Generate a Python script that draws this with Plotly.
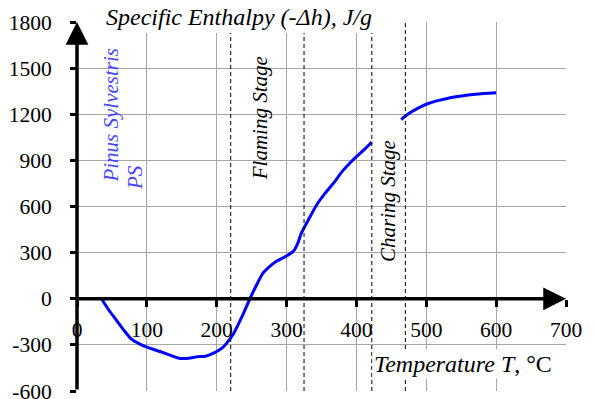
import plotly.graph_objects as go

# ---- data ----
temp_flaming = [35, 45, 57, 68, 78, 90, 100, 110, 120, 135, 147, 160, 171, 185, 200, 208, 214,
                224, 238, 247.5, 256, 266, 276, 286, 300, 310, 316, 321, 332, 343, 355, 367,
                380, 390, 400, 410, 422]
enth_flaming = [0, -70, -143, -210, -263, -295, -315, -330, -345, -370, -388, -387, -378, -372,
                -343, -320, -290, -227, -98, 0, 80, 165, 210, 245, 278, 310, 360, 425, 520,
                610, 685, 751, 830, 880, 925, 965, 1020]
temp_charing = [464, 475, 487, 500, 515, 530, 545, 560, 575, 590, 600]
enth_charing = [1166, 1205, 1237, 1265, 1287, 1303, 1315, 1325, 1332, 1337, 1340]
stage_bounds = [220, 325, 422, 470]
x_ticks = [0, 100, 200, 300, 400, 500, 600, 700]
y_ticks = [-600, -300, 0, 300, 600, 900, 1200, 1500, 1800]

X_RANGE = [0, 700]
Y_RANGE = [-600, 1800]
FONT = "Times New Roman"
TICKFONT = "Times New Roman"
GRID = "#a6a6a6"

fig = go.Figure()
fig.add_trace(go.Scatter(x=temp_flaming, y=enth_flaming, mode="lines",
                         line=dict(color="#0000ff", width=3, shape="spline", smoothing=0.6),
                         showlegend=False, hoverinfo="skip"))
fig.add_trace(go.Scatter(x=temp_charing, y=enth_charing, mode="lines",
                         line=dict(color="#0000ff", width=3, shape="spline", smoothing=0.6),
                         showlegend=False, hoverinfo="skip"))

shapes = []
# xlabel white box
shapes.append(dict(type="rect", xref="paper", yref="paper", x0=0.603, x1=1.0, y0=0.0298, y1=0.122,
                   fillcolor="white", line=dict(width=0), layer="between"))
# dashed stage boundaries
for b in stage_bounds:
    shapes.append(dict(type="line", xref="x", yref="y", x0=b, x1=b, y0=Y_RANGE[0], y1=Y_RANGE[1],
                       line=dict(color="black", width=1, dash="4px,3px"), layer="above"))
# title white box
shapes.append(dict(type="rect", xref="paper", yref="paper", x0=0.0307, x1=0.636, y0=0.9702, y1=1.07,
                   fillcolor="white", line=dict(width=0), layer="above"))

annotations = []
# axis arrows
annotations.append(dict(x=X_RANGE[1], y=0, ax=X_RANGE[0], ay=0, xref="x", yref="y", axref="x", ayref="y",
                        text="", showarrow=True, arrowhead=2, arrowwidth=3.5, arrowsize=1.3,
                        arrowcolor="black", standoff=0, startstandoff=0))
annotations.append(dict(x=0, y=Y_RANGE[1], ax=0, ay=Y_RANGE[0], xref="x", yref="y", axref="x", ayref="y",
                        text="", showarrow=True, arrowhead=2, arrowwidth=3.5, arrowsize=1.3,
                        arrowcolor="black", standoff=0, startstandoff=0))
# title
annotations.append(dict(x=0.332, y=1.0136, xref="paper", yref="paper", showarrow=False,
                        text="<i>Specific Enthalpy (-Δh), J/g</i>",
                        font=dict(family=FONT, size=24, color="black"),
                        xanchor="center", yanchor="middle"))
# x label
annotations.append(dict(x=552, y=-424, xref="x", yref="y", showarrow=False,
                        text="<i>Temperature T</i>, °C", bgcolor="white",
                        font=dict(family=FONT, size=24, color="black"),
                        xanchor="center", yanchor="middle"))
# stage labels
annotations.append(dict(x=262, y=1174, xref="x", yref="y", showarrow=False, textangle=-90,
                        text="<i>Flaming Stage</i>", font=dict(family=FONT, size=21, color="black")))
annotations.append(dict(x=446, y=633, xref="x", yref="y", showarrow=False, textangle=-90,
                        text="<i>Charing Stage</i>", font=dict(family=FONT, size=21, color="black")))
# species labels
annotations.append(dict(x=49, y=1193, xref="x", yref="y", showarrow=False, textangle=-90,
                        text="<i>Pinus Sylvestris</i>", font=dict(family=FONT, size=21, color="#4646ff")))
annotations.append(dict(x=84, y=789, xref="x", yref="y", showarrow=False, textangle=-90,
                        text="<i>PS</i>", font=dict(family=FONT, size=21, color="#4646ff")))

fig.update_layout(
    width=595, height=399,
    margin=dict(l=77, r=29, t=22, b=8, autoexpand=False),
    paper_bgcolor="white", plot_bgcolor="white",
    font=dict(family=FONT, size=21, color="black"),
    shapes=shapes, annotations=annotations,
    xaxis=dict(range=X_RANGE, tickvals=x_ticks, ticktext=[str(v) for v in x_ticks],
               showgrid=True, gridcolor=GRID, gridwidth=1.3, zeroline=False, showline=False,
               anchor="free", position=(0 - Y_RANGE[0]) / (Y_RANGE[1] - Y_RANGE[0]),
               ticks="outside", ticklen=7, tickwidth=3, tickcolor="black", automargin=False,
               ticklabelstandoff=4, ticklabeloverflow="allow",
               tickfont=dict(family=TICKFONT, size=21.5, color="black")),
    yaxis=dict(range=Y_RANGE, tickvals=y_ticks, ticktext=[str(v) for v in y_ticks],
               showgrid=True, gridcolor=GRID, gridwidth=1.3, zeroline=False, showline=False,
               ticks="outside", ticklen=6, tickwidth=3, tickcolor="black", automargin=False,
               ticklabelstandoff=14, ticklabeloverflow="allow",
               tickfont=dict(family=TICKFONT, size=21.5, color="black")),
)

fig.write_html("out.html", config={"displayModeBar": False},
               post_script="document.body.style.margin='0';document.body.style.padding='0';")
